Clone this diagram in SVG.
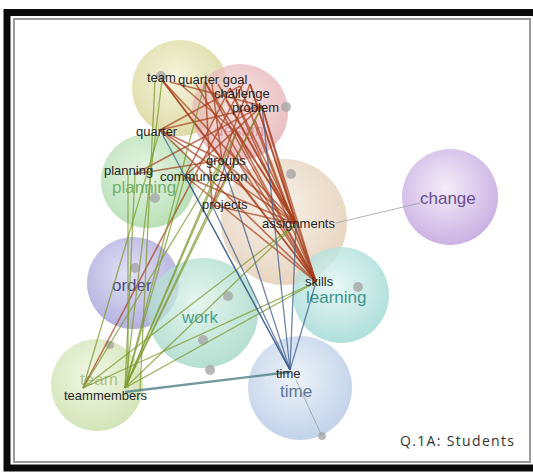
<svg xmlns="http://www.w3.org/2000/svg" width="533" height="474" viewBox="0 0 533 474">
  <style>
    .cl { stroke: none; }
    .dot { fill: #a6a6a6; opacity: 0.8; }
    .term { font-family: "Liberation Sans", Arial, sans-serif; font-size: 13px; fill: #262626; }
    .big { font-family: "Liberation Sans", Arial, sans-serif; font-size: 17px; }
    .red { stroke: #a63d1b; stroke-width: 1.6; opacity: 0.7; fill: none; }
    .grn { stroke: #7e9b2e; stroke-width: 1.3; opacity: 0.75; fill: none; }
    .blu { stroke: #3d5e8e; stroke-width: 1.3; opacity: 0.75; fill: none; }
    .gry { stroke: #9aa0a6; stroke-width: 1; opacity: 0.8; fill: none; }
    .tea { stroke: #4f7f86; stroke-width: 2.4; opacity: 0.8; fill: none; }
    .cap { font-family: "Open Sans", "Liberation Sans", sans-serif; font-size: 14px; fill: #333; }
  </style>
  <defs>
    <radialGradient id="gTeamTop" cx="0.45" cy="0.4" r="0.6"><stop offset="0" stop-color="#f3f1d2"/><stop offset="1" stop-color="#d6d392"/></radialGradient>
    <radialGradient id="gProblem" cx="0.45" cy="0.4" r="0.6"><stop offset="0" stop-color="#f6dcdc"/><stop offset="1" stop-color="#e3a9ae"/></radialGradient>
    <radialGradient id="gPlanning" cx="0.45" cy="0.4" r="0.6"><stop offset="0" stop-color="#e0f2dd"/><stop offset="1" stop-color="#a9d9a6"/></radialGradient>
    <radialGradient id="gAssign" cx="0.45" cy="0.4" r="0.6"><stop offset="0" stop-color="#f7eee4"/><stop offset="1" stop-color="#e2cbb2"/></radialGradient>
    <radialGradient id="gChange" cx="0.45" cy="0.4" r="0.6"><stop offset="0" stop-color="#f1e9f8"/><stop offset="1" stop-color="#c3a4df"/></radialGradient>
    <radialGradient id="gOrder" cx="0.45" cy="0.4" r="0.6"><stop offset="0" stop-color="#dcdaf3"/><stop offset="1" stop-color="#a19dd8"/></radialGradient>
    <radialGradient id="gWork" cx="0.45" cy="0.4" r="0.6"><stop offset="0" stop-color="#dcf1e9"/><stop offset="1" stop-color="#9dd5c2"/></radialGradient>
    <radialGradient id="gLearning" cx="0.45" cy="0.4" r="0.6"><stop offset="0" stop-color="#e2f5f3"/><stop offset="1" stop-color="#9dd8d2"/></radialGradient>
    <radialGradient id="gTeamBot" cx="0.45" cy="0.4" r="0.6"><stop offset="0" stop-color="#eef5e0"/><stop offset="1" stop-color="#c9dea6"/></radialGradient>
    <radialGradient id="gTime" cx="0.45" cy="0.4" r="0.6"><stop offset="0" stop-color="#eaf0f8"/><stop offset="1" stop-color="#b3c8e4"/></radialGradient>
  </defs>

  <!-- page background and frame -->
  <rect x="0" y="0" width="533" height="474" fill="#ffffff"/>
  <rect x="7" y="12.5" width="540" height="455.5" fill="none" stroke="#0a0a0a" stroke-width="7"/>
  <rect x="14" y="19" width="516" height="443" fill="#ffffff" stroke="#9a9a9a" stroke-width="2"/>

  <!-- cluster bubbles -->
  <g id="cluster-team-top" opacity="0.8"><circle class="cl" cx="180" cy="88" r="48" fill="url(#gTeamTop)"/></g>
  <g id="cluster-problem" opacity="0.75"><circle class="cl" cx="240" cy="112" r="48" fill="url(#gProblem)"/></g>
  <g id="cluster-assignments" opacity="0.8"><circle class="cl" cx="284" cy="222" r="63" fill="url(#gAssign)"/></g>
  <g id="cluster-planning" opacity="0.8"><circle class="cl" cx="148" cy="181" r="47" fill="url(#gPlanning)"/></g>
  <g id="cluster-change" opacity="0.85"><circle class="cl" cx="450" cy="197" r="48" fill="url(#gChange)"/></g>
  <g id="cluster-order" opacity="0.8"><circle class="cl" cx="133" cy="283" r="46" fill="url(#gOrder)"/></g>
  <g id="cluster-learning" opacity="0.8"><circle class="cl" cx="341" cy="295" r="48" fill="url(#gLearning)"/></g>
  <g id="cluster-work" opacity="0.75"><circle class="cl" cx="203" cy="313" r="55" fill="url(#gWork)"/></g>
  <g id="cluster-team-bottom" opacity="0.8"><circle class="cl" cx="97" cy="385" r="46" fill="url(#gTeamBot)"/></g>
  <g id="cluster-time" opacity="0.8"><circle class="cl" cx="300" cy="388" r="52" fill="url(#gTime)"/></g>

  <!-- term anchor dots -->
  <g id="dots">
    <circle class="dot" cx="161" cy="76" r="5"/>
    <circle class="dot" cx="286" cy="107" r="5"/>
    <circle class="dot" cx="155" cy="198" r="5"/>
    <circle class="dot" cx="291" cy="174" r="5"/>
    <circle class="dot" cx="135" cy="268" r="5"/>
    <circle class="dot" cx="228" cy="296" r="5"/>
    <circle class="dot" cx="203" cy="340" r="5"/>
    <circle class="dot" cx="210" cy="370" r="5"/>
    <circle class="dot" cx="110" cy="345" r="4"/>
    <circle class="dot" cx="358" cy="287" r="5"/>
    <circle class="dot" cx="322" cy="436" r="4"/>
  </g>

  <!-- large cluster labels -->
  <g id="cluster-labels" class="big">
    <text x="214" y="136" fill="#d4868f" opacity="0.7">design</text>
    <text x="112" y="193" fill="#5fa65f" opacity="0.85">planning</text>
    <text x="420" y="204" fill="#6b4c90">change</text>
    <text x="112" y="291" fill="#4d4a8c">order</text>
    <text x="182" y="323" fill="#4aa08c">work</text>
    <text x="306" y="303" fill="#3d9590">learning</text>
    <text x="80" y="385" fill="#9bba74" opacity="0.8">team</text>
    <text x="280" y="397" fill="#5a7497">time</text>
  </g>

  <!-- connectors -->
  <g id="connectors">
    <!-- links between problem terms and assignments / skills -->
    <line class="red" x1="162" y1="80" x2="296" y2="224"/>
    <line class="red" x1="162" y1="80" x2="316" y2="282"/>
    <line class="red" x1="170" y1="82" x2="262" y2="106"/>
    <line class="red" x1="205" y1="82" x2="296" y2="224"/>
    <line class="red" x1="205" y1="82" x2="316" y2="282"/>
    <line class="red" x1="205" y1="82" x2="212" y2="205"/>
    <line class="red" x1="212" y1="84" x2="222" y2="160"/>
    <line class="red" x1="230" y1="88" x2="296" y2="224"/>
    <line class="red" x1="230" y1="88" x2="316" y2="282"/>
    <line class="red" x1="230" y1="88" x2="185" y2="176"/>
    <line class="red" x1="240" y1="86" x2="160" y2="130"/>
    <line class="red" x1="262" y1="106" x2="296" y2="224"/>
    <line class="red" x1="262" y1="106" x2="316" y2="282"/>
    <line class="red" x1="262" y1="106" x2="212" y2="205"/>
    <line class="red" x1="262" y1="106" x2="185" y2="176"/>
    <line class="red" x1="262" y1="106" x2="135" y2="174"/>
    <line class="red" x1="160" y1="130" x2="296" y2="224"/>
    <line class="red" x1="160" y1="130" x2="316" y2="282"/>
    <line class="red" x1="160" y1="130" x2="262" y2="106"/>
    <line class="red" x1="236" y1="132" x2="296" y2="224"/>
    <line class="red" x1="236" y1="132" x2="316" y2="282"/>
    <line class="red" x1="236" y1="132" x2="212" y2="205"/>
    <line class="red" x1="222" y1="160" x2="296" y2="224"/>
    <line class="red" x1="222" y1="160" x2="316" y2="282"/>
    <line class="red" x1="222" y1="160" x2="135" y2="174"/>
    <line class="red" x1="222" y1="160" x2="162" y2="80"/>
    <line class="red" x1="222" y1="160" x2="250" y2="84"/>
    <line class="red" x1="185" y1="176" x2="296" y2="224"/>
    <line class="red" x1="185" y1="176" x2="316" y2="282"/>
    <line class="red" x1="212" y1="205" x2="296" y2="224"/>
    <line class="red" x1="250" y1="84" x2="296" y2="224"/>
    <line class="red" x1="250" y1="84" x2="316" y2="282"/>
    <line class="red" x1="180" y1="84" x2="236" y2="132"/>
    <line class="red" x1="83" y1="388" x2="244" y2="82"/>
    <line class="red" x1="160" y1="130" x2="222" y2="160"/>
    <line class="red" x1="218" y1="84" x2="296" y2="224"/>
    <line class="red" x1="240" y1="86" x2="316" y2="282"/>
    <line class="red" x1="226" y1="100" x2="296" y2="224"/>
    <line class="red" x1="196" y1="84" x2="316" y2="282"/>
    <line class="red" x1="255" y1="120" x2="316" y2="282"/>
    <line class="red" x1="230" y1="150" x2="316" y2="282"/>

    <!-- links from teammembers -->
    <line class="grn" x1="125" y1="388" x2="162" y2="80"/>
    <line class="grn" x1="125" y1="388" x2="205" y2="82"/>
    <line class="grn" x1="125" y1="388" x2="262" y2="106"/>
    <line class="grn" x1="125" y1="388" x2="222" y2="160"/>
    <line class="grn" x1="125" y1="388" x2="296" y2="224"/>
    <line class="grn" x1="125" y1="388" x2="316" y2="282"/>
    <line class="grn" x1="125" y1="388" x2="212" y2="205"/>
    <line class="grn" x1="125" y1="388" x2="185" y2="176"/>
    <line class="grn" x1="125" y1="388" x2="236" y2="132"/>
    <line class="grn" x1="125" y1="388" x2="135" y2="174"/>
    <line class="grn" x1="83" y1="388" x2="296" y2="224"/>
    <line class="grn" x1="83" y1="388" x2="316" y2="282"/>
    <line class="grn" x1="83" y1="388" x2="222" y2="160"/>
    <line class="grn" x1="83" y1="388" x2="160" y2="130"/>
    <line class="grn" x1="128" y1="388" x2="128" y2="174"/>
    <line class="grn" x1="140" y1="390" x2="155" y2="80"/>

    <!-- links from time -->
    <line class="blu" x1="290" y1="370" x2="212" y2="205"/>
    <line class="blu" x1="290" y1="370" x2="222" y2="160"/>
    <line class="blu" x1="290" y1="370" x2="262" y2="106"/>
    <line class="blu" x1="290" y1="370" x2="296" y2="224"/>
    <line class="blu" x1="290" y1="370" x2="316" y2="282"/>
    <line class="blu" x1="290" y1="370" x2="185" y2="176"/>
    <line class="blu" x1="290" y1="370" x2="160" y2="130"/>

    <line class="tea" x1="125" y1="392" x2="290" y2="372"/>
    <line class="gry" x1="336" y1="223" x2="420" y2="203"/>
    <line class="gry" x1="296" y1="380" x2="322" y2="436"/>
  </g>

  <!-- term labels -->
  <g id="term-team" class="term"><text x="147" y="82">team</text></g>
  <g id="term-quarter-goal" class="term"><text x="178" y="84">quarter goal</text></g>
  <g id="term-challenge" class="term"><text x="214" y="98">challenge</text></g>
  <g id="term-problem" class="term"><text x="232" y="112">problem</text></g>
  <g id="term-quarter" class="term"><text x="136" y="136">quarter</text></g>
  <g id="term-planning" class="term"><text x="104" y="175">planning</text></g>
  <g id="term-communication" class="term"><text x="160" y="181">communication</text></g>
  <g id="term-groups" class="term"><text x="206" y="165">groups</text></g>
  <g id="term-projects" class="term"><text x="202" y="209">projects</text></g>
  <g id="term-assignments" class="term"><text x="262" y="228">assignments</text></g>
  <g id="term-skills" class="term"><text x="305" y="286">skills</text></g>
  <g id="term-time" class="term"><text x="276" y="378">time</text></g>
  <g id="term-teammembers" class="term"><text x="64" y="400">teammembers</text></g>

  <!-- caption -->
  <text class="cap" x="400" y="446" textLength="114">Q.1A: Students</text>
</svg>
